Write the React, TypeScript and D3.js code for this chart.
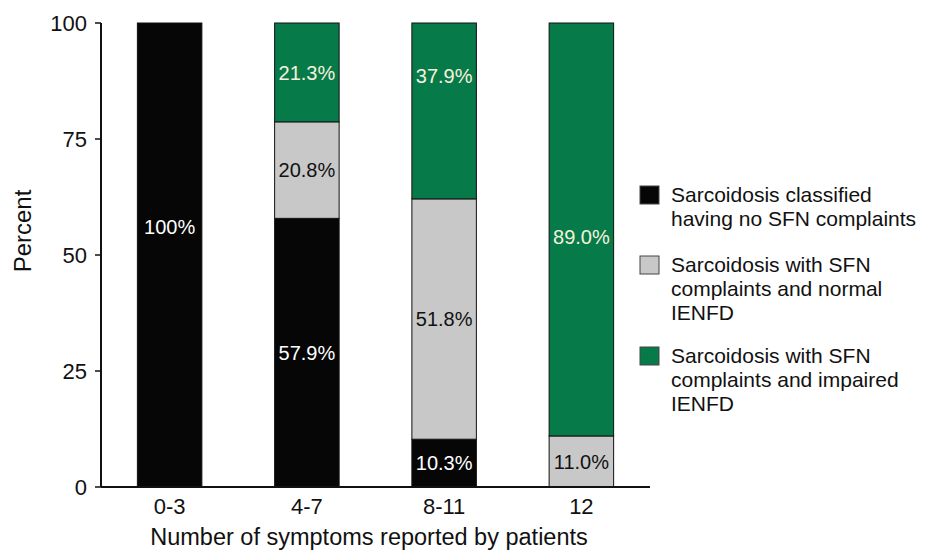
import React from "react";
import * as d3 from "d3";

const categories = ["0-3", "4-7", "8-11", "12"];
const seriesNames = [
  ["Sarcoidosis classified", "having no SFN complaints"],
  ["Sarcoidosis with SFN", "complaints and normal", "IENFD"],
  ["Sarcoidosis with SFN", "complaints and impaired", "IENFD"],
];
const noComplaints = [100, 57.9, 10.3, 0];
const normalIENFD = [0, 20.8, 51.8, 11.0];
const impairedIENFD = [0, 21.3, 37.9, 89.0];
const valueLabels = [
  ["100%", "57.9%", "10.3%", ""],
  ["", "20.8%", "51.8%", "11.0%"],
  ["", "21.3%", "37.9%", "89.0%"],
];
const yTicks = [0, 25, 50, 75, 100];

const colors = ["#060606", "#c8c8c8", "#077a4a"];
const labelColors = ["#ffffff", "#111111", "#f4f2dc"];
const FONT = "Arial, 'Liberation Sans', Helvetica, sans-serif";

export default function App() {
  const W = 925, H = 554;
  const x0 = 101, x1 = 650, yTop = 23, yBot = 487;
  const x = d3.scaleBand<string>().domain(categories).range([x0, x1]).paddingInner(0.53).paddingOuter(0.265);
  const y = d3.scaleLinear().domain([0, 100]).range([yBot, yTop]);

  const series = [noComplaints, normalIENFD, impairedIENFD];
  const stack = categories.map((_, i) => {
    let acc = 0;
    return series.map((s) => {
      const lo = acc;
      acc += s[i];
      return [lo, acc];
    });
  });
  // nudges for labels that are not centered in their segment (in data units)
  const nudge: Record<string, number> = { "0-0": 6, "2-2": 7.5, "2-3": -1.5 };

  return (
    <svg width={W} height={H} style={{ display: "block", position: "absolute", left: 0, top: 0, background: "#fff" }} fontFamily={FONT}>
      <rect x={0} y={0} width={W} height={H} fill="#fff" />
      {categories.map((c, i) =>
        series.map((s, k) => {
          const [lo, hi] = stack[i][k];
          if (hi - lo <= 0) return null;
          return (
            <rect key={`${c}-${k}`} x={x(c)} width={x.bandwidth()} y={y(hi)} height={y(lo) - y(hi)}
              fill={colors[k]} stroke="#111" strokeWidth={1} />
          );
        })
      )}
      {categories.map((c, i) =>
        series.map((s, k) => {
          const t = valueLabels[k][i];
          if (!t) return null;
          const [lo, hi] = stack[i][k];
          const v = (lo + hi) / 2 + (nudge[`${k}-${i}`] || 0);
          return (
            <text key={`l${c}-${k}`} x={(x(c) as number) + x.bandwidth() / 2} y={y(v)} dy="0.36em"
              textAnchor="middle" fontSize={20} fill={labelColors[k]}>{t}</text>
          );
        })
      )}
      {/* y axis */}
      <line x1={x0} x2={x0} y1={yTop} y2={yBot} stroke="#111" strokeWidth={2} />
      {yTicks.map((t) => (
        <g key={t}>
          <line x1={x0 - 6} x2={x0} y1={y(t)} y2={y(t)} stroke="#111" strokeWidth={1.5} />
          <text x={x0 - 14} y={y(t)} dy="0.36em" textAnchor="end" fontSize={22} fill="#111">{t}</text>
        </g>
      ))}
      {/* x axis */}
      <line x1={x0} x2={x1} y1={yBot} y2={yBot} stroke="#111" strokeWidth={2} />
      {categories.map((c) => (
        <text key={c} x={(x(c) as number) + x.bandwidth() / 2} y={506} dy="0.36em" textAnchor="middle" fontSize={22} fill="#111">{c}</text>
      ))}
      <text x={369} y={537} dy="0.36em" textAnchor="middle" fontSize={23.5} fill="#111">Number of symptoms reported by patients</text>
      <text transform={`translate(22,231) rotate(-90)`} dy="0.36em" textAnchor="middle" fontSize={24} fill="#111">Percent</text>
      {/* legend */}
      {seriesNames.map((lines, k) => {
        const top = [186, 256, 347][k];
        return (
          <g key={k}>
            <rect x={640} y={top} width={19} height={18} fill={colors[k]} stroke="#444" strokeWidth={1} />
            {lines.map((ln, j) => (
              <text key={j} x={671} y={top + 8 + j * 24} dy="0.36em" fontSize={21} fill="#111">{ln}</text>
            ))}
          </g>
        );
      })}
    </svg>
  );
}
